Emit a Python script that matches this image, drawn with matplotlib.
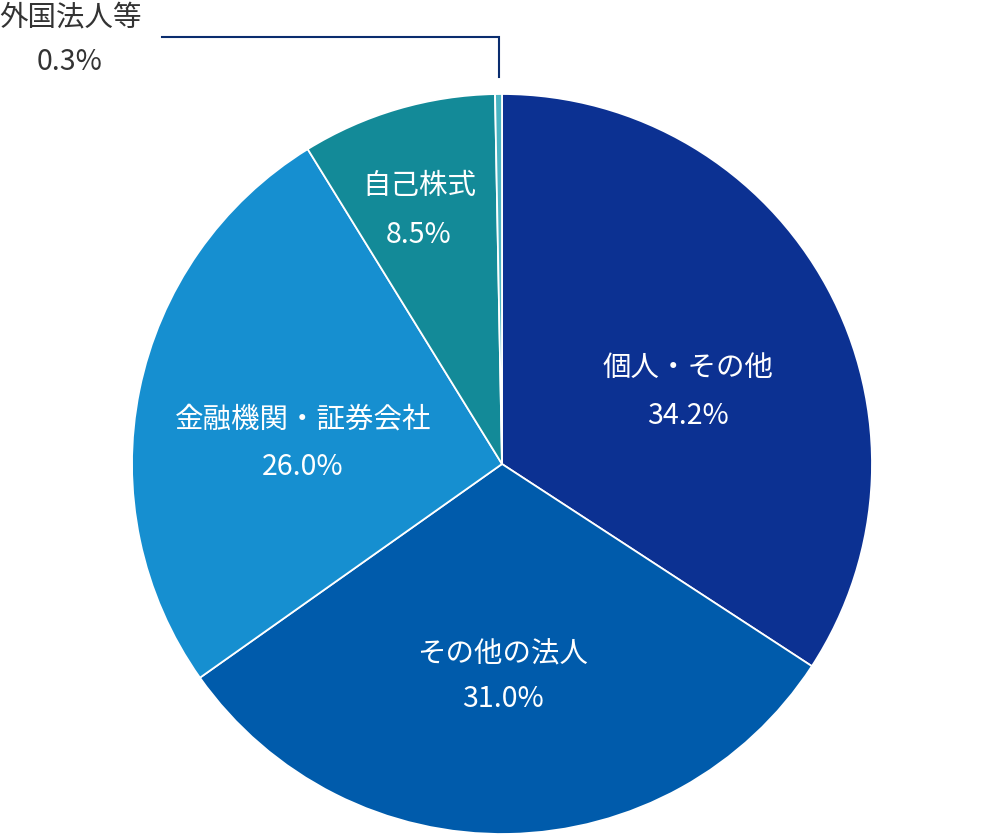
"""Shareholder composition pie chart (所有者別分布)."""
import matplotlib
matplotlib.use("Agg")
import matplotlib.pyplot as plt

plt.rcParams['font.family'] = ['Noto Sans CJK JP', 'DejaVu Sans']

labels = ["個人・その他", "その他の法人", "金融機関・証券会社", "自己株式", "外国法人等"]
shares = [34.2, 31.0, 26.0, 8.5, 0.3]
colors = ["#0c3192", "#005bab", "#168fd0", "#138a98", "#4ab4c2"]

W, H = 1004, 836
fig = plt.figure(figsize=(W / 100, H / 100), dpi=100)
ax = fig.add_axes([0, 0, 1, 1])

cx, cy, r = 502, H - 464, 370
ax.pie(shares, colors=colors, startangle=90, counterclock=False,
       center=(cx, cy), radius=r,
       wedgeprops=dict(edgecolor="white", linewidth=1.3))
ax.set_xlim(0, W)
ax.set_ylim(0, H)
ax.set_aspect("equal")
ax.axis("off")

# label positions in image pixels (x, y of name line, y of value line)
pos = {
    "個人・その他": (688, 368, 416, "white"),
    "その他の法人": (503, 654, 699, "white"),
    "金融機関・証券会社": (303, 420, 467, "white"),
    "自己株式": (419, 186, 235, "white"),
    "外国法人等": (70, 17, 62, "#333333"),
}
for lab, val in zip(labels, shares):
    x, y1, y2, c = pos[lab]
    ax.text(x, H - y1, lab, ha="center", va="center", fontsize=20.5, color=c)
    ax.text(x, H - y2, f"{val:.1f}%", ha="center", va="center", fontsize=20.5, color=c)

# leader line for the tiny slice
ax.plot([499, 499, 162], [H - 77, H - 37, H - 37], color="#0a2d6e", lw=1.5,
        solid_joinstyle="miter")

fig.savefig("out.png", dpi=100)
plt.close(fig)
